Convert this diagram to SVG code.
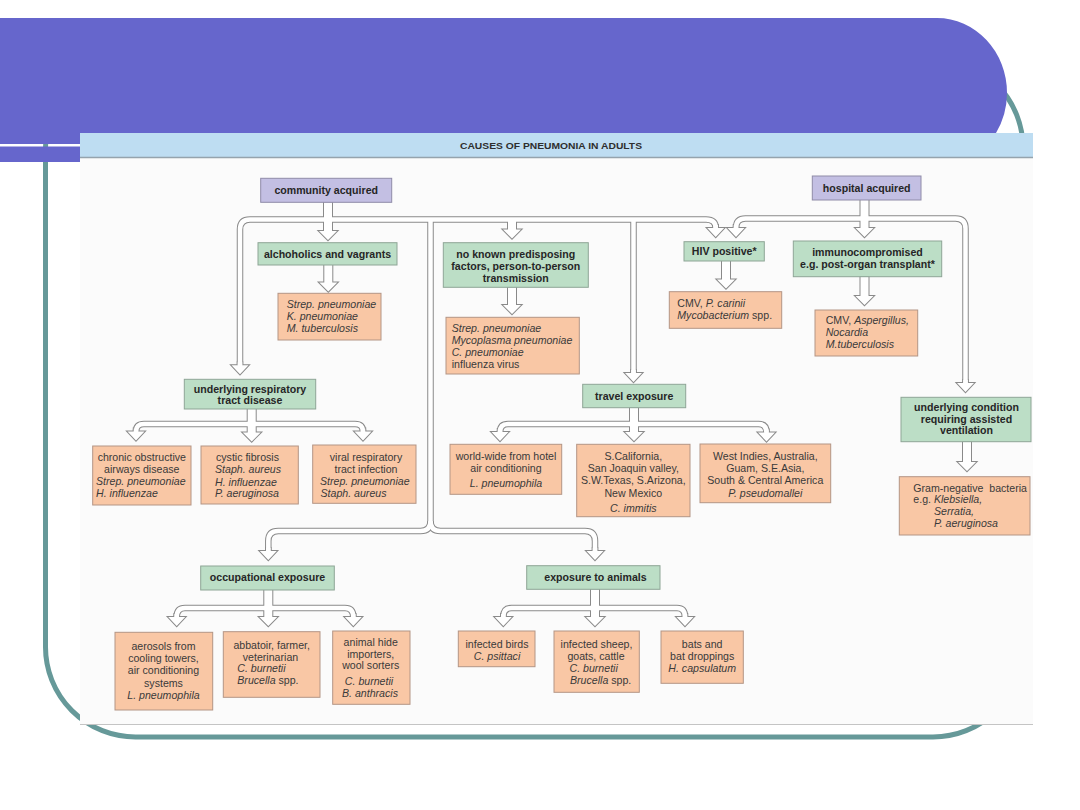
<svg xmlns="http://www.w3.org/2000/svg" xmlns:xlink="http://www.w3.org/1999/xlink" width="1080" height="810" viewBox="0 0 1080 810">
<style>
text{font-family:"Liberation Sans",Arial,sans-serif;font-size:10.6px;}
.b{font-weight:bold;fill:#262626;text-anchor:middle;}
.o{fill:#3a3a3a;}
.c{text-anchor:middle;}
.i{font-style:italic;}
.pur{fill:#C3BFE3;stroke:#8f8ba8;stroke-width:1;}
.grn{fill:#BCDEC6;stroke:#8ea596;stroke-width:1;}
.org{fill:#F9C7A5;stroke:#b39585;stroke-width:1;}
</style>
<defs>
<g id="pipes">
<path d="M240,365.3 V229.5 Q240,219.5 250,219.5 H706 Q715.7,219.5 715.7,228"/>
<path d="M430.5,219.5 V521 Q430.5,531 420.5,531 H278.3 Q268.3,531 268.3,541 V551"/>
<path d="M430.5,521 Q430.5,531 440.5,531 H585 Q595,531 595,541 V551"/>
<path d="M633.5,219.5 V373"/>
<path d="M736,228 Q736,218.5 745.5,218.5 H955.5 Q965.5,218.5 965.5,228.5 V383"/>
<path d="M136,431.5 Q136,424 144,424 H355 Q363,424 363,431.5"/>
<path d="M500,432 Q500,424 508,424 H758.5 Q766.5,424 766.5,432.5"/>
<path d="M176.7,617 Q176.7,608 185,608 H345 Q353.3,608 353.3,617"/>
<path d="M503.3,617 Q503.3,608 511.5,608 H677 Q685,608 685,617"/>
</g>
<g id="heads">
<polygon points="324,202.3 324,231 319,231 328,240 337,231 332,231 332,202.3"/>
<polygon points="324.3,265 324.3,282.5 319.3,282.5 328.3,291.5 337.3,282.5 332.3,282.5 332.3,265"/>
<polygon points="508,219.5 508,229.5 503,229.5 512,238.5 521,229.5 516,229.5 516,219.5"/>
<polygon points="508,287.3 508,305 503,305 512,314 521,305 516,305 516,287.3"/>
<polygon points="722,261 722,279.5 717,279.5 726,288.5 735,279.5 730,279.5 730,261"/>
<polygon points="860.5,200 860.5,228 855.5,228 864.5,237 873.5,228 868.5,228 868.5,200"/>
<polygon points="860.5,276.7 860.5,296 855.5,296 864.5,305 873.5,296 868.5,296 868.5,276.7"/>
<polygon points="247.7,409 247.7,432.5 242.7,432.5 251.7,441.5 260.7,432.5 255.7,432.5 255.7,409"/>
<polygon points="630,407.7 630,432 625,432 634,441 643,432 638,432 638,407.7"/>
<polygon points="963,441.7 963,462 958,462 967,471 976,462 971,462 971,441.7"/>
<polygon points="264.3,590 264.3,617 259.3,617 268.3,626 277.3,617 272.3,617 272.3,590"/>
<polygon points="591,589.3 591,617 586,617 595,626 604,617 599,617 599,589.3"/>
<polygon points="237.75,362.3 237.75,365.3 231.5,365.3 240,374.3 248.5,365.3 242.25,365.3 242.25,362.3"/>
<polygon points="713.45,225 713.45,228 707.2,228 715.7,237 724.2,228 717.95,228 717.95,225"/>
<polygon points="631.25,370 631.25,373 625,373 633.5,382 642,373 635.75,373 635.75,370"/>
<polygon points="266.05,548 266.05,551 259.8,551 268.3,560 276.8,551 270.55,551 270.55,548"/>
<polygon points="592.75,548 592.75,551 586.5,551 595,560 603.5,551 597.25,551 597.25,548"/>
<polygon points="733.75,225 733.75,228 727.5,228 736,237 744.5,228 738.25,228 738.25,225"/>
<polygon points="963.25,380 963.25,383 957,383 965.5,392 974,383 967.75,383 967.75,380"/>
<polygon points="133.75,428.5 133.75,431.5 127.5,431.5 136,440.5 144.5,431.5 138.25,431.5 138.25,428.5"/>
<polygon points="360.75,428.5 360.75,431.5 354.5,431.5 363,440.5 371.5,431.5 365.25,431.5 365.25,428.5"/>
<polygon points="497.75,429 497.75,432 491.5,432 500,441 508.5,432 502.25,432 502.25,429"/>
<polygon points="764.25,429.5 764.25,432.5 758,432.5 766.5,441.5 775,432.5 768.75,432.5 768.75,429.5"/>
<polygon points="174.45,614 174.45,617 168.2,617 176.7,626 185.2,617 178.95,617 178.95,614"/>
<polygon points="351.05,614 351.05,617 344.8,617 353.3,626 361.8,617 355.55,617 355.55,614"/>
<polygon points="501.05,614 501.05,617 494.8,617 503.3,626 511.8,617 505.55,617 505.55,614"/>
<polygon points="682.75,614 682.75,617 676.5,617 685,626 693.5,617 687.25,617 687.25,614"/>
</g>
</defs>

<!-- slide template -->
<rect x="0" y="0" width="1080" height="810" fill="#ffffff"/>
<rect x="45.5" y="58" width="977.5" height="679" rx="90" ry="90" fill="none" stroke="#669999" stroke-width="5"/>
<path d="M0,18 H937 A70,75 0 0 1 1007,93 A70,75 0 0 1 996,133 V144 H0 Z" fill="#6666CC"/>
<rect x="0" y="146.5" width="80" height="15.5" fill="#6666CC"/>

<!-- figure background -->
<rect x="80" y="133" width="953" height="592" fill="#FBFBFB"/>
<rect x="80" y="133" width="953" height="24" fill="#BEDDF2"/>
<line x1="80" y1="157.5" x2="1033" y2="157.5" stroke="#95a3ad" stroke-width="1.5"/>
<line x1="80" y1="724.5" x2="1033" y2="724.5" stroke="#c4c4c4" stroke-width="1.2"/>
<text x="551" y="148.5" text-anchor="middle" font-weight="bold" fill="#2e2e2e" style="font-size:9.5px" textLength="182" lengthAdjust="spacingAndGlyphs">CAUSES OF PNEUMONIA IN ADULTS</text>

<g id="connectors">
<use xlink:href="#pipes" fill="none" stroke="#8a8a8a" stroke-width="6.5"/>
<use xlink:href="#heads" fill="#8a8a8a" stroke="#8a8a8a" stroke-width="2" stroke-linejoin="miter"/>
<use xlink:href="#pipes" fill="none" stroke="#ffffff" stroke-width="4.5"/>
<use xlink:href="#heads" fill="#ffffff" stroke="none"/>
</g>

<g id="community">
<rect class="pur" x="260.7" y="178.3" width="131" height="24"/>
<text class="b" x="326.2" y="194">community acquired</text>
</g>
<g id="hospital">
<rect class="pur" x="812.3" y="176" width="108.7" height="24"/>
<text class="b" x="866.7" y="191.5">hospital acquired</text>
</g>

<g id="alcoholics">
<rect class="grn" x="258" y="242.7" width="139" height="22.3"/>
<text class="b" x="327.5" y="257.5">alchoholics and vagrants</text>
</g>
<g id="alcoholics-org">
<rect class="org" x="278" y="293.3" width="103" height="46.7"/>
<text class="o i" x="286.7" y="308.3">Strep. pneumoniae</text>
<text class="o i" x="286.7" y="320.3">K. pneumoniae</text>
<text class="o i" x="286.7" y="332.3">M. tuberculosis</text>
</g>

<g id="noknown">
<rect class="grn" x="443.3" y="242.7" width="145" height="44.6"/>
<text class="b" x="515.8" y="258">no known predisposing</text>
<text class="b" x="515.8" y="270">factors, person-to-person</text>
<text class="b" x="515.8" y="282">transmission</text>
</g>
<g id="noknown-org">
<rect class="org" x="446" y="317.3" width="133.3" height="56.7"/>
<text class="o i" x="451.7" y="331.7">Strep. pneumoniae</text>
<text class="o i" x="451.7" y="343.7">Mycoplasma pneumoniae</text>
<text class="o i" x="451.7" y="355.7">C. pneumoniae</text>
<text class="o" x="451.7" y="367.7">influenza virus</text>
</g>

<g id="hiv">
<rect class="grn" x="684" y="241.7" width="80.3" height="19.3"/>
<text class="b" x="724.2" y="255.2">HIV positive*</text>
</g>
<g id="hiv-org">
<rect class="org" x="669.3" y="291.7" width="112.4" height="36.6"/>
<text class="o" x="677.3" y="306.5">CMV, <tspan class="i">P. carinii</tspan></text>
<text class="o" x="677.3" y="318.5"><tspan class="i">Mycobacterium</tspan> spp.</text>
</g>

<g id="immuno">
<rect class="grn" x="793.3" y="241" width="148.4" height="35.7"/>
<text class="b" x="867.5" y="256">immunocompromised</text>
<text class="b" x="867.5" y="268">e.g. post-organ transplant*</text>
</g>
<g id="immuno-org">
<rect class="org" x="815" y="310" width="102.7" height="46"/>
<text class="o" x="825.7" y="324"><tspan>CMV, </tspan><tspan class="i">Aspergillus,</tspan></text>
<text class="o i" x="825.7" y="335.8">Nocardia</text>
<text class="o i" x="825.7" y="347.5">M.tuberculosis</text>
</g>

<g id="resp">
<rect class="grn" x="184.3" y="379.3" width="131.4" height="29.7"/>
<text class="b" x="250" y="392.5">underlying respiratory</text>
<text class="b" x="250" y="404">tract disease</text>
</g>
<g id="copd">
<rect class="org" x="92.7" y="446" width="98.3" height="59"/>
<text class="o c" x="141.8" y="461">chronic obstructive</text>
<text class="o c" x="141.8" y="472.8">airways disease</text>
<text class="o i" x="96" y="484.5">Strep. pneumoniae</text>
<text class="o i" x="96" y="496.5">H. influenzae</text>
</g>
<g id="cf">
<rect class="org" x="201" y="446" width="97.3" height="58"/>
<text class="o" x="216" y="461">cystic fibrosis</text>
<text class="o i" x="215" y="473.3">Staph. aureus</text>
<text class="o i" x="215" y="485.8">H. influenzae</text>
<text class="o i" x="215" y="497.3">P. aeruginosa</text>
</g>
<g id="viral">
<rect class="org" x="312.7" y="445" width="103.3" height="58.3"/>
<text class="o c" x="366" y="461">viral respiratory</text>
<text class="o c" x="366" y="472.8">tract infection</text>
<text class="o i" x="320" y="484.5">Strep. pneumoniae</text>
<text class="o i" x="320.5" y="496.5">Staph. aureus</text>
</g>

<g id="travel">
<rect class="grn" x="582.7" y="384.3" width="103" height="23.4"/>
<text class="b" x="634.2" y="400">travel exposure</text>
</g>
<g id="worldwide">
<rect class="org" x="450" y="444.3" width="111.7" height="50"/>
<text class="o c" x="506" y="460">world-wide from hotel</text>
<text class="o c" x="506" y="472">air conditioning</text>
<text class="o c i" x="506" y="487.3">L. pneumophila</text>
</g>
<g id="scal">
<rect class="org" x="576.7" y="444.3" width="113.3" height="72.4"/>
<text class="o c" x="633.3" y="460">S.California,</text>
<text class="o c" x="633.3" y="472.3">San Joaquin valley,</text>
<text class="o c" x="633.3" y="484.3">S.W.Texas, S.Arizona,</text>
<text class="o c" x="633.3" y="496.7">New Mexico</text>
<text class="o c i" x="633.3" y="511.7">C. immitis</text>
</g>
<g id="westindies">
<rect class="org" x="700" y="444" width="130.7" height="58.7"/>
<text class="o c" x="765.3" y="459.5">West Indies, Australia,</text>
<text class="o c" x="765.3" y="471.7">Guam, S.E.Asia,</text>
<text class="o c" x="765.3" y="483.5">South &amp; Central America</text>
<text class="o c i" x="765.3" y="497.3">P. pseudomallei</text>
</g>

<g id="ventilation">
<rect class="grn" x="901" y="397.3" width="130" height="44.4"/>
<text class="b" x="966.5" y="410.8">underlying condition</text>
<text class="b" x="966.5" y="422.5">requiring assisted</text>
<text class="b" x="966.5" y="434.2">ventilation</text>
</g>
<g id="gramneg">
<rect class="org" x="899.3" y="476.7" width="130.7" height="58.3"/>
<text class="o" x="913.3" y="491.7" xml:space="preserve">Gram-negative  bacteria</text>
<text class="o" x="913.3" y="503.4">e.g. <tspan class="i">Klebsiella,</tspan></text>
<text class="o i" x="934" y="515">Serratia,</text>
<text class="o i" x="934" y="526.7">P. aeruginosa</text>
</g>

<g id="occupational">
<rect class="grn" x="200.7" y="566" width="133.6" height="24"/>
<text class="b" x="267.5" y="581.3">occupational exposure</text>
</g>
<g id="aerosols">
<rect class="org" x="115" y="632.3" width="97.7" height="77.7"/>
<text class="o c" x="163.5" y="650">aerosols from</text>
<text class="o c" x="163.5" y="662.3">cooling towers,</text>
<text class="o c" x="163.5" y="674.4">air conditioning</text>
<text class="o c" x="163.5" y="686.7">systems</text>
<text class="o c i" x="163.5" y="699">L. pneumophila</text>
</g>
<g id="abbatoir">
<rect class="org" x="223.3" y="631.7" width="96.7" height="65.6"/>
<text class="o c" x="271.7" y="649.3">abbatoir, farmer,</text>
<text class="o c" x="270.5" y="660.8">veterinarian</text>
<text class="o i" x="237.3" y="672.4">C. burnetii</text>
<text class="o" x="237.3" y="684"><tspan class="i">Brucella</tspan> spp.</text>
</g>
<g id="hide">
<rect class="org" x="332.7" y="631" width="77.3" height="73.3"/>
<text class="o c" x="370.7" y="646">animal hide</text>
<text class="o c" x="370.7" y="657.7">importers,</text>
<text class="o c" x="370.7" y="669.4">wool sorters</text>
<text class="o c i" x="369" y="685">C. burnetii</text>
<text class="o c i" x="370" y="696.7">B. anthracis</text>
</g>

<g id="animals">
<rect class="grn" x="526.7" y="565.7" width="133.3" height="23.6"/>
<text class="b" x="595.5" y="580.5">exposure to animals</text>
</g>
<g id="birds">
<rect class="org" x="458.3" y="631" width="76.7" height="35.7"/>
<text class="o c" x="497" y="648.3">infected birds</text>
<text class="o c i" x="497" y="660">C. psittaci</text>
</g>
<g id="sheep">
<rect class="org" x="554" y="631" width="85.3" height="61.3"/>
<text class="o c" x="596.5" y="648.3">infected sheep,</text>
<text class="o c" x="596" y="660">goats, cattle</text>
<text class="o i" x="569.5" y="671.7">C. burnetii</text>
<text class="o" x="570" y="684"><tspan class="i">Brucella</tspan> spp.</text>
</g>
<g id="bats">
<rect class="org" x="661" y="631" width="82.3" height="52.3"/>
<text class="o c" x="702.2" y="648.3">bats and</text>
<text class="o c" x="702.2" y="660">bat droppings</text>
<text class="o c i" x="702.2" y="671.7">H. capsulatum</text>
</g>
</svg>
